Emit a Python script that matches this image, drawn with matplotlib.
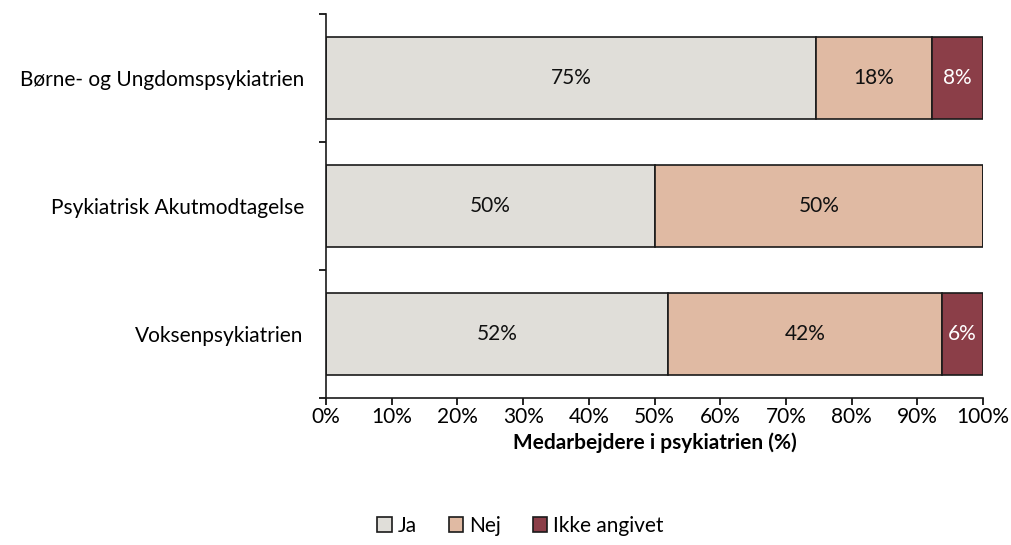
import numpy as np
import matplotlib.pyplot as plt

plt.rcParams['font.family'] = ['Lato', 'DejaVu Sans']

# data: share of staff per answer, bottom row first
categories = ["Voksenpsykiatrien", "Psykiatrisk Akutmodtagelse", "Børne- og Ungdomspsykiatrien"]
ja = [52.1, 50.0, 74.6]
nej = [41.7, 50.0, 17.6]
ikke = [6.2, 0.0, 7.8]
series_names = ["Ja", "Nej", "Ikke angivet"]
colors = ["#E0DED9", "#E0BAA3", "#8B3E48"]
text_colors = ["#111111", "#111111", "white"]
xticks = np.arange(0, 101, 10)

FS = 15

fig = plt.figure(figsize=(10.11, 5.45), dpi=100)
ax = fig.add_axes([326 / 1011, 1 - 398 / 545, 657 / 1011, 384 / 545])

y = np.arange(len(categories))
left = np.zeros(len(categories))
for vals, name, col, tcol in zip([ja, nej, ikke], series_names, colors, text_colors):
    vals = np.array(vals)
    ax.barh(y, vals, left=left, height=0.64, color=col,
            edgecolor="#1a1a1a", linewidth=1.2, label=name)
    for v, l, yy in zip(vals, left, y):
        if v > 0:
            ax.text(l + v / 2, yy, f"{v:.0f}%", ha="center", va="center",
                    fontsize=FS, color=tcol)
    left += vals

ax.set_xlim(0, 100)
ax.set_ylim(-0.5, len(categories) - 0.5)
ax.set_xticks(xticks)
ax.set_xticklabels([f"{t}%" for t in xticks], fontsize=FS)
ax.set_yticks(y)
ax.set_yticklabels(categories, fontsize=FS)
ax.set_yticks(np.arange(-0.5, len(categories), 1), minor=True)

ax.tick_params(axis="y", which="major", length=0, pad=16)
ax.tick_params(axis="y", which="minor", length=5, width=1.2, direction="out")
ax.tick_params(axis="x", length=5, width=1.2, direction="out", pad=1.5)

for side in ["top", "right"]:
    ax.spines[side].set_visible(False)
for side in ["left", "bottom"]:
    ax.spines[side].set_linewidth(1.2)
    ax.spines[side].set_color("#1a1a1a")

ax.set_xlabel("Medarbejdere i psykiatrien (%)", fontsize=FS, fontweight="bold", labelpad=4)

fig.legend(loc="lower center", bbox_to_anchor=(0.515, -0.018), ncol=3, frameon=False,
           fontsize=FS, handlelength=0.7, handleheight=0.7, handletextpad=0.3,
           columnspacing=1.5)

fig.savefig("out.png", dpi=100)
